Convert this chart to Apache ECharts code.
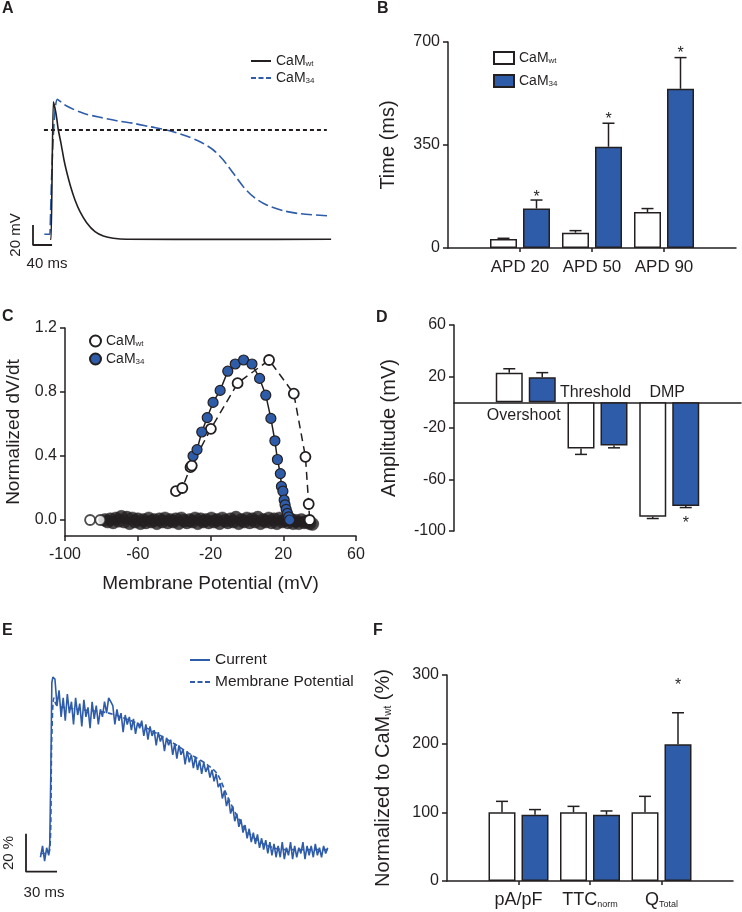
<!DOCTYPE html>
<html><head><meta charset="utf-8">
<script src="https://cdn.jsdelivr.net/npm/echarts@6/dist/echarts.min.js"></script>
<style>html,body{margin:0;padding:0;background:#fff}#c{width:742px;height:912px}</style>
</head><body><div id="c"></div>
<script>
const FONT = 'Liberation Sans, Arial, Helvetica, sans-serif';
const INK = '#231f20';
const BLUE = '#2f5ca8';

// ---------- Panel A: action potentials (t in ms, V in mV)
const aWtTrace = [[36,-89.3],[38,-89.3],[42.7,48.3],[48.3,36.7],[53.2,20],[58.8,6.7],[65.1,-10],[70.7,-21.7],[79.1,-36.7],[88.2,-50],[98.7,-61.7],[112.7,-72.7],[130.2,-81.7],[147.7,-86],[168.7,-88.3],[196.7,-89.3],[400,-89.4],[626,-89.3]];
const a34Trace = [[23.8,-84.3],[35.7,-84.3],[37.1,-84.3],[51,50.7],[70.7,44],[105.7,36.7],[140.7,32.7],[175.7,29.3],[210.7,26.7],[245.7,23.3],[280.7,20],[315.7,15],[350.7,8.3],[378.7,0],[399.7,-10],[420.7,-23.3],[441.7,-36.7],[462.7,-46.7],[490.7,-55],[525.7,-60.7],[560.7,-63.7],[626,-66]];
const aThreshold = [[23,20],[617,20]];
const aScaleBar = [[0,-75],[0,-95],[40,-95]];

// ---------- Panel B: APD (ms)
const bCategories = ['', 'APD 20', 'APD 50', 'APD 90', ''];
const bWt = [null, 31, 52, 122, null];
const bWtErr = [null, 33, 59, 134, null];
const b34 = [null, 134, 344, 541, null];
const b34Err = [null, 163, 424, 647, null];
const b34Star = [null, 182, 446, 670, null];

// ---------- Panel C: normalized dV/dt vs membrane potential
const cWt = [[-39,0.18],[-35.5,0.2],[-31,0.33],[-30.3,0.34],[-19.8,0.57],[-5.1,0.855],[12.2,1.0],[25.8,0.79],[32.2,0.395],[34,0.1],[34.5,0]];
const cWtRest = [[-86.2,0],[-80.6,0]];
const c34 = [[-29.6,0.40],[-27.4,0.44],[-24.8,0.55],[-21.8,0.64],[-18.6,0.735],[-14.7,0.81],[-10.5,0.93],[-6.4,0.975],[-1.8,1.0],[2.8,0.975],[7,0.885],[10.4,0.78],[13.2,0.635],[15.4,0.495],[16.8,0.378],[18.4,0.29],[19,0.21],[19.8,0.18],[20.5,0.125],[21,0.095],[21.6,0.067],[22.3,0.042],[23,0.02],[23.5,0.0]];
const cBaseline = [[-78,0.0],[-76.5,-0.01],[-75,0.005],[-73.5,-0.015],[-72,0.01],[-70.5,-0.005],[-69,0.02],[-67.5,-0.01],[-66,0.015],[-64.5,-0.02],[-63,0.01],[-61.5,-0.01],[-60,0.005],[-58.5,-0.02],[-57,0.0],[-55.5,-0.015],[-54,0.01],[-52.5,-0.01],[-51,0.0],[-49.5,-0.02],[-48,0.005],[-46.5,-0.01],[-45,0.01],[-43.5,-0.015],[-42,0.0],[-40.5,-0.01],[-39,0.005],[-37.5,-0.02],[-36,0.01],[-34.5,-0.005],[-33,-0.015],[-31.5,0.0],[-30,-0.01],[-28.5,0.01],[-27,-0.02],[-25.5,0.005],[-24,-0.01],[-22.5,0.0],[-21,-0.015],[-19.5,0.01],[-18,-0.01],[-16.5,0.0],[-15,-0.02],[-13.5,0.01],[-12,-0.005],[-10.5,-0.015],[-9,0.005],[-7.5,-0.01],[-6,0.015],[-4.5,-0.02],[-3,0.0],[-1.5,-0.01],[0,0.01],[1.5,-0.015],[3,0.005],[4.5,-0.01],[6,0.015],[7.5,-0.02],[9,0.0],[10.5,-0.01],[12,0.01],[13.5,-0.015],[15,0.005],[16.5,-0.02],[18,0.01],[19.5,-0.01],[21,0.0],[22.5,-0.015],[24,0.005],[25.5,-0.02],[27,-0.005],[28.5,-0.02],[30,0.0],[31.5,-0.015],[33,-0.01],[34.5,-0.02],[36,-0.025]];
const cYTicks = [0, 0.4, 0.8, 1.2];

// ---------- Panel D: amplitudes (mV)
const dCategories = ['', 'Overshoot', 'Threshold', 'DMP', ''];
const dWt = [null, 23, -36, -89, null];
const dWtErr = [null, 26, -40.5, -90.3, null];
const d34 = [null, 19.4, -33.5, -80.5, null];
const d34Err = [null, 23, -35.4, -81.8, null];
const d34Star = [null, null, null, -92, null];

// ---------- Panel E: normalized current / membrane potential (t in ms, %)
const eCurrent = [[14,-4],[16,2],[18,-6],[20,1],[22,-3],[23,3],[24,40],[25,88],[26,91],[28,90],[30,76],[32,84],[34,70],[36,80],[38,68],[40,82],[42,72],[44,78],[46,66],[48,80],[50,71],[52,77],[54,65],[56,79],[58,70],[60,75],[62,64],[64,78],[66,69],[68,76],[70,66],[72,74],[74,70],[76,78],[78,72],[80,80],[82,78],[84,76],[86,66],[88,74],[90,68],[92,72],[94,62],[96,71],[98,66],[100,70],[102,63],[104,69],[106,61],[108,67],[110,64],[112,68],[114,60],[116,66],[118,58],[120,65],[122,60],[124,63],[126,55],[128,62],[130,57],[132,60],[134,52],[136,59],[138,55],[140,58],[142,50],[144,56],[146,48],[148,55],[150,50],[152,53],[154,45],[156,52],[158,46],[160,50],[162,43],[164,49],[166,42],[168,47],[170,40],[172,46],[174,41],[176,44],[178,38],[180,42],[182,36],[184,40],[186,33],[188,35],[190,27],[192,31],[194,23],[196,27],[198,19],[200,23],[202,15],[204,19],[206,12],[208,16],[210,9],[212,13],[214,6],[216,11],[218,4],[220,9],[222,3],[224,8],[226,1],[228,6],[230,0],[232,5],[234,-2],[236,4],[238,-3],[240,3],[242,-4],[244,2],[246,-4],[248,4],[250,-5],[252,1],[254,-3],[256,4],[258,-5],[260,2],[262,-4],[264,1],[266,-2],[268,4],[270,-5],[272,2],[274,-3],[276,2],[278,-4],[280,3],[282,-3],[284,1],[286,-4],[288,2],[290,-2],[292,1]];
const eVm = [[14,-2],[22,-2],[25,60],[27,80],[30,76],[50,74],[80,72],[110,66],[140,57],[160,50],[175,45],[185,40],[195,28],[205,17],[215,9],[230,3],[250,0],[292,0]];
const eScaleBar = [[0,8.4],[0,-11.6],[30,-11.6]];

// ---------- Panel F: normalized to CaMwt (%)
const fCategories = ['', 'pA/pF', 'TTC_norm', 'Q_Total', ''];
const fWt = [null, 100, 100, 100, null];
const fWtErr = [null, 116, 108.7, 123.3, null];
const f34 = [null, 96.6, 96.6, 199, null];
const f34Err = [null, 104, 102, 245, null];
const f34Star = [null, null, null, 289, null];

// ---------- helpers
const BAR_W = 27, BAR_GAP_PX = 6;
const OFF = (BAR_W + BAR_GAP_PX) / 2;
const ICON_SOLID = 'path://M0,0H20V2H0Z';
const ICON_DASH = 'path://M0,0H5V2H0Z M7.5,0H12.5V2H7.5Z M15,0H20V2H15Z';
const subRich = (size, subSize) => ({
  m: {fontSize: size, color: INK, fontFamily: FONT},
  s: {fontSize: subSize, color: INK, fontFamily: FONT, verticalAlign: 'bottom'}
});
const camLabel = {'A_wt':'{m|CaM}{s|wt}','A_34':'{m|CaM}{s|34}','B_wt':'{m|CaM}{s|wt}','B_34':'{m|CaM}{s|34}','C_wt':'{m|CaM}{s|wt}','C_34':'{m|CaM}{s|34}'};

function errItems(vals, errs, stars) {
  const out = [];
  vals.forEach((v, i) => { if (v != null) out.push([i, v, errs[i], stars ? stars[i] : null]); });
  return out;
}
function errRender(offset) {
  return function (params, api) {
    const i = api.value(0);
    const pTop = api.coord([i, api.value(1)]);
    const pErr = api.coord([i, api.value(2)]);
    const x = pTop[0] + offset;
    const ch = [
      {type:'line', shape:{x1:x, y1:pTop[1], x2:x, y2:pErr[1]}, style:{stroke:INK, lineWidth:1.5}},
      {type:'line', shape:{x1:x-6, y1:pErr[1], x2:x+6, y2:pErr[1]}, style:{stroke:INK, lineWidth:1.5}}
    ];
    const s = api.value(3);
    if (s != null && !isNaN(s)) {
      const ps = api.coord([i, s]);
      ch.push({type:'text', x:x, y:ps[1] + 3, style:{text:'*', fill:INK, font:'16px ' + FONT, align:'center', verticalAlign:'middle'}});
    }
    return {type:'group', children: ch};
  };
}
const axLine = {show:true, onZero:false, lineStyle:{color:INK, width:1.5}};
const axTick = {show:true, length:5, lineStyle:{color:INK, width:1.5}};
const axLabel = {color:INK, fontSize:16, fontFamily:FONT};
const hidden = {show:false};
function barSeries(name, xi, data, fill) {
  return {name, type:'bar', xAxisIndex:xi, yAxisIndex:xi, data, barWidth:BAR_W, barGap:(BAR_GAP_PX/BAR_W*100)+'%',
    itemStyle:{color:fill, borderColor:INK, borderWidth:1.5}, z:2};
}
function errSeries(xi, vals, errs, stars, offset) {
  return {type:'custom', xAxisIndex:xi, yAxisIndex:xi, data:errItems(vals, errs, stars), renderItem:errRender(offset), z:3, silent:true};
}
function catAxis(gi, cats, opts) {
  return Object.assign({type:'category', gridIndex:gi, data:cats, boundaryGap:false,
    axisLine:{show:true, lineStyle:{color:INK, width:1.5}},
    axisTick:{show:true, length:4, interval:(i)=> i>=1 && i<=3, lineStyle:{color:INK, width:1.5}},
    axisLabel:Object.assign({}, axLabel, {interval:0, fontSize:17, margin:11}),
    splitLine:hidden}, opts || {});
}

const option = {
  animation:false,
  backgroundColor:'#fff',
  textStyle:{fontFamily:FONT, color:INK},
  grid:[
    {left:33, top:90, width:300, height:160},
    {left:448, top:42, width:288, height:206},
    {left:65, top:328, width:291, height:208},
    {left:454, top:325, width:287, height:206},
    {left:26, top:660, width:310, height:220},
    {left:447, top:675, width:286, height:206}
  ],
  xAxis:[
    {type:'value', gridIndex:0, min:0, max:630, show:false},
    catAxis(1, bCategories),
    {type:'value', gridIndex:2, min:-100, max:60, interval:40, axisLine:axLine, axisTick:axTick,
     axisLabel:Object.assign({}, axLabel, {margin:11}), splitLine:hidden,
     name:'Membrane Potential (mV)', nameLocation:'middle', nameGap:38, nameTextStyle:{fontSize:19, color:INK, fontFamily:FONT}},
    catAxis(3, dCategories, {axisLine:{show:true, onZero:true, lineStyle:{color:INK, width:1.5}}, axisTick:hidden, axisLabel:hidden}),
    {type:'value', gridIndex:4, min:0, max:300, show:false},
    catAxis(5, fCategories, {axisLabel:Object.assign({}, axLabel, {interval:0, margin:10,
      formatter:(v)=>{ if(!v) return ''; const p=v.split('_'); return p.length>1 ? '{m|'+p[0]+'}{s|'+p[1]+'}' : '{m|'+v+'}'; },
      rich:subRich(18, 9)})})
  ],
  yAxis:[
    {type:'value', gridIndex:0, min:-100, max:60, show:false},
    {type:'value', gridIndex:1, min:0, max:700, interval:350, axisLine:axLine, axisTick:axTick,
     axisLabel:Object.assign({}, axLabel, {margin:8}), splitLine:hidden,
     name:'Time (ms)', nameLocation:'middle', nameGap:50, nameTextStyle:{fontSize:20, color:INK, fontFamily:FONT}},
    {type:'value', gridIndex:2, min:-0.1, max:1.2, axisLine:axLine,
     axisTick:Object.assign({}, axTick, {customValues:cYTicks}),
     axisLabel:Object.assign({}, axLabel, {margin:8, customValues:cYTicks, formatter:(v)=>v.toFixed(1)}), splitLine:hidden,
     name:'Normalized dV/dt', nameLocation:'middle', nameGap:42, nameTextStyle:{fontSize:19, color:INK, fontFamily:FONT}},
    {type:'value', gridIndex:3, min:-100, max:60, interval:40, axisLine:axLine, axisTick:axTick,
     axisLabel:Object.assign({}, axLabel, {margin:8}), splitLine:hidden,
     name:'Amplitude (mV)', nameLocation:'middle', nameGap:55, nameTextStyle:{fontSize:20, color:INK, fontFamily:FONT}},
    {type:'value', gridIndex:4, min:-16, max:100, show:false},
    {type:'value', gridIndex:5, min:0, max:300, interval:100, axisLine:axLine, axisTick:axTick,
     axisLabel:Object.assign({}, axLabel, {margin:8}), splitLine:hidden,
     name:'{m|Normalized to CaM}{s|wt}{m| (%)}', nameLocation:'middle', nameGap:54,
     nameTextStyle:{fontSize:20, color:INK, fontFamily:FONT, rich:subRich(20, 10)}}
  ],
  legend:[
    {orient:'vertical', left:251, top:54, padding:0, itemWidth:20, itemHeight:2, itemGap:3,
     data:[{name:'A_wt', icon:ICON_SOLID},{name:'A_34', icon:ICON_DASH}], formatter:(n)=>camLabel[n], textStyle:{fontSize:14, color:INK, rich:subRich(14, 8)}, selectedMode:false},
    {orient:'vertical', left:493, top:51, padding:0, itemWidth:20, itemHeight:12, itemGap:9,
     data:[{name:'B_wt', icon:'rect'},{name:'B_34', icon:'rect'}], formatter:(n)=>camLabel[n], textStyle:{fontSize:14, color:INK, rich:subRich(14, 8)}, selectedMode:false},
    {orient:'vertical', left:89, top:334, padding:0, itemWidth:11, itemHeight:11, itemGap:4,
     data:[{name:'C_wt', icon:'circle'},{name:'C_34', icon:'circle'}], formatter:(n)=>camLabel[n], textStyle:{fontSize:14, color:INK, rich:subRich(14, 8)}, selectedMode:false},
    {orient:'vertical', left:190, top:652, padding:0, itemWidth:20, itemHeight:2, itemGap:6,
     data:[{name:'Current', icon:ICON_SOLID},{name:'Membrane Potential', icon:ICON_DASH}], textStyle:{fontSize:15.5, color:INK, fontFamily:FONT}, selectedMode:false}
  ],
  graphic:[
    {type:'text', x:2, y:1, style:{text:'A', font:'bold 16px '+FONT, fill:INK}},
    {type:'text', x:377, y:1, style:{text:'B', font:'bold 16px '+FONT, fill:INK}},
    {type:'text', x:2, y:309, style:{text:'C', font:'bold 16px '+FONT, fill:INK}},
    {type:'text', x:376, y:310, style:{text:'D', font:'bold 16px '+FONT, fill:INK}},
    {type:'text', x:2, y:623, style:{text:'E', font:'bold 16px '+FONT, fill:INK}},
    {type:'text', x:373, y:623, style:{text:'F', font:'bold 16px '+FONT, fill:INK}},
    {type:'text', x:16, y:235, rotation:Math.PI/2, style:{text:'20 mV', font:'15px '+FONT, fill:INK, align:'center', verticalAlign:'middle'}},
    {type:'text', x:47, y:264, style:{text:'40 ms', font:'15px '+FONT, fill:INK, align:'center', verticalAlign:'middle'}},
    {type:'text', x:9, y:853, rotation:Math.PI/2, style:{text:'20 %', font:'15px '+FONT, fill:INK, align:'center', verticalAlign:'middle'}},
    {type:'text', x:44, y:893, style:{text:'30 ms', font:'15px '+FONT, fill:INK, align:'center', verticalAlign:'middle'}}
  ],
  series:[
    // A
    {name:'A_wt', type:'line', xAxisIndex:0, yAxisIndex:0, data:aWtTrace, symbol:'none', smooth:0.2, lineStyle:{color:INK, width:1.6}, itemStyle:{color:INK}, z:3},
    {name:'A_34', type:'line', xAxisIndex:0, yAxisIndex:0, data:a34Trace, symbol:'none', smooth:0.3, lineStyle:{color:BLUE, width:1.6, type:[11,4]}, itemStyle:{color:BLUE}, z:2},
    {type:'line', xAxisIndex:0, yAxisIndex:0, data:aThreshold, symbol:'none', lineStyle:{color:INK, width:2, type:[4,3]}, z:4},
    {type:'line', xAxisIndex:0, yAxisIndex:0, data:aScaleBar, symbol:'none', lineStyle:{color:INK, width:1.8}, z:4},
    // B
    barSeries('B_wt', 1, bWt, '#fff'),
    barSeries('B_34', 1, b34, BLUE),
    errSeries(1, bWt, bWtErr, null, -OFF),
    errSeries(1, b34, b34Err, b34Star, OFF),
    // C
    {type:'scatter', xAxisIndex:2, yAxisIndex:2, data:cBaseline, symbol:'circle', symbolSize:13, clip:false,
     itemStyle:{color:INK, borderColor:INK, borderWidth:0.5}, z:2},
    {type:'scatter', xAxisIndex:2, yAxisIndex:2, data:cWtRest, symbol:'circle', symbolSize:10, clip:false,
     itemStyle:{color:'#fff', borderColor:INK, borderWidth:1.8}, z:3},
    {name:'C_wt', type:'line', xAxisIndex:2, yAxisIndex:2, data:cWt, symbol:'circle', symbolSize:10, showAllSymbol:true, clip:false,
     lineStyle:{color:INK, width:1.5, type:[8,5]}, itemStyle:{color:'#fff', borderColor:INK, borderWidth:1.8}, z:3},
    {name:'C_34', type:'line', xAxisIndex:2, yAxisIndex:2, data:c34, symbol:'circle', symbolSize:10, showAllSymbol:true, clip:false,
     lineStyle:{color:INK, width:1.5}, itemStyle:{color:BLUE, borderColor:INK, borderWidth:1.2}, z:4},
    // D
    barSeries('D_wt', 3, dWt, '#fff'),
    barSeries('D_34', 3, d34, BLUE),
    errSeries(3, dWt, dWtErr, null, -OFF),
    errSeries(3, d34, d34Err, d34Star, OFF),
    {type:'custom', xAxisIndex:3, yAxisIndex:3, silent:true, z:5,
     data:[1,2,3].map(i => [i, 0, dWt[i] > 0 ? 1 : 0]),
     renderItem:(params, api) => {
       const i = api.value(0);
       const p = api.coord([i, api.value(1)]);
       const below = api.value(2) === 1;
       return {type:'text', x:p[0] - 2, y: below ? p[1] + 5 : p[1] - 2,
         style:{text:dCategories[i], fill:INK, font:'16px ' + FONT, align:'center', verticalAlign: below ? 'top' : 'bottom'}};
     }},
    // E
    {name:'Membrane Potential', type:'line', xAxisIndex:4, yAxisIndex:4, data:eVm, symbol:'none', smooth:0.3,
     lineStyle:{color:BLUE, width:1.6, type:[5,3]}, itemStyle:{color:BLUE}, z:2},
    {name:'Current', type:'line', xAxisIndex:4, yAxisIndex:4, data:eCurrent, symbol:'none',
     lineStyle:{color:BLUE, width:1.6}, itemStyle:{color:BLUE}, z:3},
    {type:'line', xAxisIndex:4, yAxisIndex:4, data:eScaleBar, symbol:'none', lineStyle:{color:INK, width:1.8}, z:4},
    // F
    barSeries('F_wt', 5, fWt, '#fff'),
    barSeries('F_34', 5, f34, BLUE),
    errSeries(5, fWt, fWtErr, null, -OFF),
    errSeries(5, f34, f34Err, f34Star, OFF)
  ]
};
const chart = echarts.init(document.getElementById('c'), null, {renderer:'canvas'});
chart.setOption(option);
</script></body></html>
